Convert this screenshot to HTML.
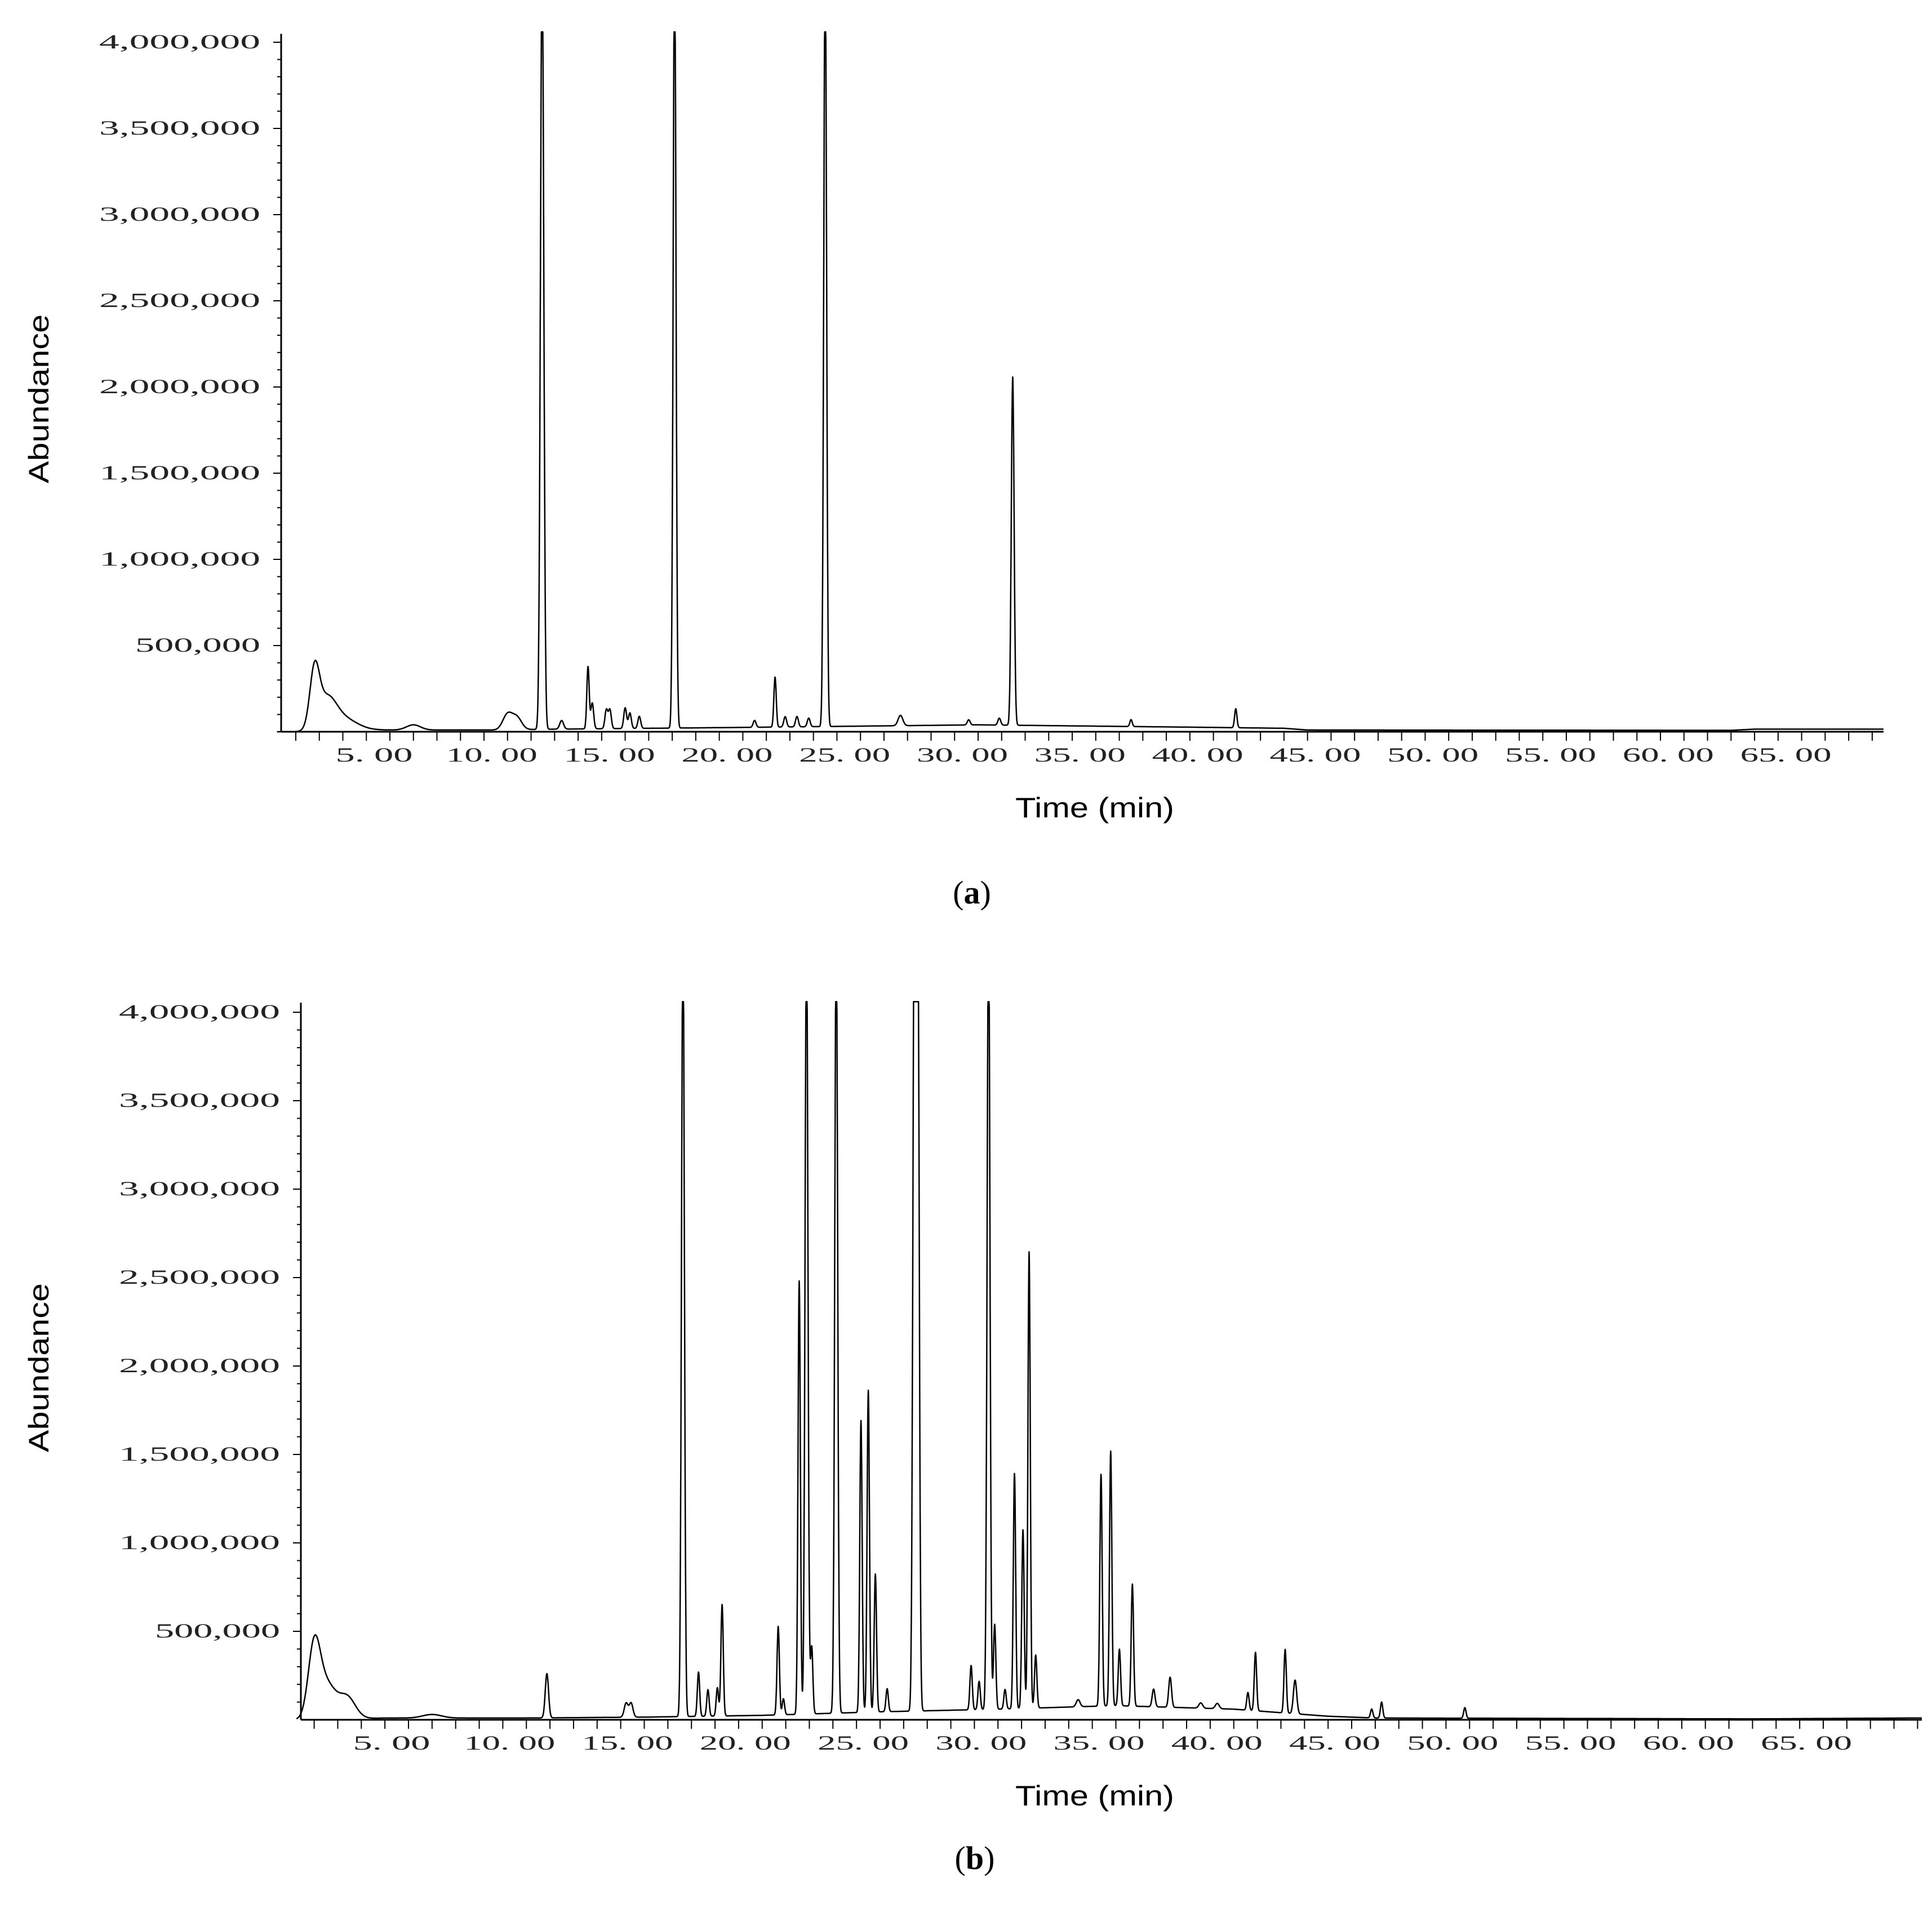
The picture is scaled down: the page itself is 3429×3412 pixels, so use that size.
<!DOCTYPE html>
<html><head><meta charset="utf-8"><style>
html,body{margin:0;padding:0;background:#fff;}
svg{display:block;}
</style></head><body>
<svg id="fig" xmlns="http://www.w3.org/2000/svg" width="3429" height="3412" viewBox="0 0 3429 3412">
<rect width="3429" height="3412" fill="#fff"/>
</svg>
<script>
// Panel (a) data
const aPeakTimes   = [1.8, 2.3, 3.0, 6.0, 10.0, 10.4, 11.47, 12.3, 13.42, 13.6, 14.2, 14.35, 15.0, 15.2, 15.6, 17.1, 20.5, 21.37, 21.8, 22.3, 22.8, 23.5, 26.7, 29.6, 30.9, 31.47, 36.5, 40.95];
const aPeakHeights = [320000, 170000, 70000, 30000, 90000, 70000, 4500000, 50000, 360000, 150000, 110000, 110000, 120000, 90000, 70000, 4500000, 40000, 290000, 60000, 60000, 50000, 4500000, 60000, 30000, 40000, 2020000, 40000, 110000];
const aPeakWidths  = [0.2, 0.4, 0.6, 0.3, 0.2, 0.2, 0.07, 0.08, 0.05, 0.06, 0.06, 0.06, 0.06, 0.06, 0.06, 0.06, 0.06, 0.05, 0.06, 0.06, 0.06, 0.06, 0.1, 0.06, 0.06, 0.06, 0.05, 0.05];
const aBaseTimes  = [0.2, 1.3, 4.5, 9.5, 12.0, 20.0, 30.0, 40.0, 43.0, 44.0, 62.0, 63.0, 68.3];
const aBaseValues = [0, 0, 10000, 10000, 15000, 25000, 40000, 25000, 20000, 10000, 8000, 15000, 15000];

// Panel (b) data
const bPeakTimes   = [1.0, 1.5, 2.4, 6.0, 10.87, 14.23, 14.44, 16.64, 17.3, 17.7, 18.1, 18.3, 20.68, 20.9, 21.57, 21.88, 22.1, 23.14, 24.19, 24.5, 24.8, 25.3, 26.45, 26.6, 28.86, 29.2, 29.6, 29.86, 30.3, 30.7, 31.06, 31.32, 31.6, 33.4, 34.37, 34.78, 35.15, 35.7, 36.6, 37.3, 38.6, 39.3, 40.6, 40.92, 42.18, 42.6, 45.85, 46.27, 49.8];
const bPeakHeights = [380000, 200000, 120000, 20000, 250000, 80000, 80000, 4500000, 250000, 150000, 160000, 630000, 500000, 90000, 2450000, 4500000, 380000, 4500000, 1650000, 1820000, 780000, 130000, 4500000, 4500000, 250000, 160000, 4500000, 480000, 110000, 1330000, 1010000, 2580000, 300000, 40000, 1310000, 1440000, 320000, 690000, 100000, 170000, 30000, 30000, 100000, 330000, 360000, 190000, 50000, 90000, 60000];
const bPeakWidths  = [0.25, 0.4, 0.35, 0.4, 0.07, 0.08, 0.08, 0.06, 0.05, 0.05, 0.05, 0.05, 0.05, 0.05, 0.05, 0.06, 0.05, 0.06, 0.05, 0.05, 0.05, 0.05, 0.06, 0.06, 0.05, 0.05, 0.06, 0.05, 0.05, 0.05, 0.05, 0.05, 0.05, 0.08, 0.05, 0.05, 0.05, 0.05, 0.06, 0.06, 0.08, 0.08, 0.05, 0.05, 0.05, 0.07, 0.05, 0.05, 0.05];
const bBaseTimes  = [0.2, 0.6, 4.0, 10.0, 15.0, 20.0, 25.0, 30.0, 35.0, 40.0, 44.0, 46.0, 62.0, 68.9];
const bBaseValues = [0, 0, 10000, 10000, 15000, 25000, 45000, 60000, 80000, 60000, 20000, 10000, 5000, 10000];

// Axis tick labels
const yTickValues = [500000, 1000000, 1500000, 2000000, 2500000, 3000000, 3500000, 4000000];
const yTickLabels = ["500,000", "1,000,000", "1,500,000", "2,000,000", "2,500,000", "3,000,000", "3,500,000", "4,000,000"];
const xTickValues = [5, 10, 15, 20, 25, 30, 35, 40, 45, 50, 55, 60, 65];
const xTickLabels = ["5. 00", "10. 00", "15. 00", "20. 00", "25. 00", "30. 00", "35. 00", "40. 00", "45. 00", "50. 00", "55. 00", "60. 00", "65. 00"];

const NS = "http://www.w3.org/2000/svg";
const svg = document.getElementById('fig');
function mk(tag, attrs, parent) {
  const e = document.createElementNS(NS, tag);
  for (const k in attrs) e.setAttribute(k, attrs[k]);
  (parent || svg).appendChild(e);
  return e;
}
function interp(ts, vs, t) {
  if (t <= ts[0]) return vs[0];
  for (let i = 1; i < ts.length; i++) if (t <= ts[i]) {
    const f = (t - ts[i-1]) / (ts[i] - ts[i-1]);
    return vs[i-1] + f * (vs[i] - vs[i-1]);
  }
  return vs[vs.length - 1];
}

function panel(cfg, pt, ph, pw, bt, bv, label) {
  const g = mk('g', {});
  
  
  const xs = t => cfg.x5 + (t - 5) * cfg.pxPerMin;
  const ys = v => cfg.y0 - v / 500000 * cfg.pxPer500k;

  const ya = mk('line', {x1: cfg.axisX, y1: cfg.axisTop, x2: cfg.axisX, y2: cfg.y0, stroke: '#000', 'stroke-width': 3}, g);
  
  
  for (let v = 100000; v <= 4000000; v += 100000) {
    const major = v % 500000 === 0;
    const tk = mk('line', {x1: cfg.axisX - (major ? 14 : 7), y1: ys(v), x2: cfg.axisX, y2: ys(v), stroke: '#000', 'stroke-width': 2}, g);
    
    
  }
  yTickValues.forEach((v, i) => {
    const s = yTickLabels[i];
    const tx = mk('text', {x: cfg.axisX - 37, y: ys(v) + 11, 'text-anchor': 'end', 'font-family': 'Liberation Serif, serif', 'font-size': 36, fill: '#222', textLength: s.length * 30 + (s.length > 7 ? 16 : 12), lengthAdjust: 'spacingAndGlyphs'}, g);
    tx.textContent = s;
    
    
  });
  const xa = mk('line', {x1: cfg.axisX, y1: cfg.y0, x2: cfg.axisRight, y2: cfg.y0, stroke: '#000', 'stroke-width': 3}, g);
  
  
  for (let t = 1; xs(t) <= cfg.axisRight; t++) {
    const tk = mk('line', {x1: xs(t), y1: cfg.y0, x2: xs(t), y2: cfg.y0 + 16, stroke: '#000', 'stroke-width': 2}, g);
    
    
  }
  xTickValues.forEach((v, i) => {
    const s = xTickLabels[i];
    const tx = mk('text', {x: xs(v) + cfg.lblShift, y: cfg.y0 + 53, 'text-anchor': 'middle', 'font-family': 'Liberation Serif, serif', 'font-size': 36, fill: '#222', textLength: s.length * 25 + 12, lengthAdjust: 'spacingAndGlyphs'}, g);
    tx.textContent = s;
    
    
  });
  let d = '';
  const tEnd = (cfg.axisRight - cfg.x5) / cfg.pxPerMin + 5;
  for (let t = cfg.tStart; t <= tEnd; t += 0.01) {
    let v = interp(bt, bv, t);
    for (let i = 0; i < pt.length; i++) {
      const z = (t - pt[i]) / pw[i];
      if (Math.abs(z) < 6) v += ph[i] * Math.exp(-0.5 * z * z);
    }
    v = Math.min(v, 4060000);
    d += (d ? 'L' : 'M') + xs(t).toFixed(1) + ' ' + ys(v).toFixed(1);
  }
  const p = mk('path', {d: d, fill: 'none', stroke: '#000', 'stroke-width': 2.5, 'stroke-linejoin': 'round'}, g);
  
  

  const yt = mk('text', {x: 0, y: 0, transform: `translate(${cfg.ytX},${cfg.ytY}) rotate(-90)`, 'text-anchor': 'middle', 'font-family': 'Liberation Sans, sans-serif', 'font-size': 50, textLength: 300, lengthAdjust: 'spacingAndGlyphs'}, g);
  yt.textContent = 'Abundance';
  
  
  const xt = mk('text', {x: 1943, y: cfg.y0 + 152, 'text-anchor': 'middle', 'font-family': 'Liberation Sans, sans-serif', 'font-size': 50, textLength: 282, lengthAdjust: 'spacingAndGlyphs'}, g);
  xt.textContent = 'Time (min)';
  
  
  const pl = mk('text', {x: cfg.lblX, y: cfg.lblY, 'text-anchor': 'middle', 'font-family': 'Liberation Serif, serif', 'font-size': 58}, g);
  pl.innerHTML = '(<tspan font-weight="bold">' + label + '</tspan>)';
  
  
}

panel({x5: 692, pxPerMin: 41.76, y0: 1299, pxPer500k: 153, axisX: 499, axisTop: 60, axisRight: 3343, tStart: 0.2, ytX: 86, ytY: 708, lblX: 1725, lblY: 1604, lblShift: -28},
      aPeakTimes, aPeakHeights, aPeakWidths, aBaseTimes, aBaseValues, 'a');
panel({x5: 725, pxPerMin: 41.85, y0: 3053, pxPer500k: 157, axisX: 534, axisTop: 1780, axisRight: 3411, tStart: 0.25, ytX: 86, ytY: 2428, lblX: 1730, lblY: 3318, lblShift: -30},
      bPeakTimes, bPeakHeights, bPeakWidths, bBaseTimes, bBaseValues, 'b');
</script>
</body></html>
